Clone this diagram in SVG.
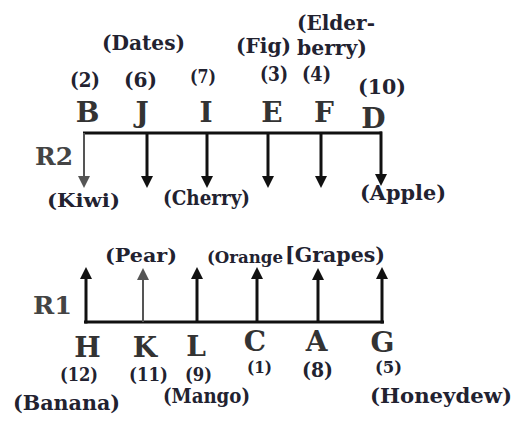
<svg xmlns="http://www.w3.org/2000/svg" width="523" height="421" viewBox="0 0 523 421">
<defs>
<style>
text{font-family:"DejaVu Serif","Liberation Serif",serif;font-weight:bold;fill:#222230}
.let{font-size:28px;fill:#333;text-anchor:middle}
.row{font-size:25px;fill:#444}
.lab{font-size:20px}
.num{font-size:20px}
.ln{stroke:#111;stroke-width:3;fill:none}
.gr{stroke:#555;stroke-width:2;fill:none}
</style>
<marker id="ah" viewBox="0 0 12 12" refX="6" refY="6" markerWidth="12" markerHeight="12" markerUnits="userSpaceOnUse" orient="auto">
<path d="M0,0 L12,6 L0,12 z" fill="#111"/>
</marker>
<marker id="ahg" viewBox="0 0 12 12" refX="6" refY="6" markerWidth="12" markerHeight="12" markerUnits="userSpaceOnUse" orient="auto">
<path d="M0,0 L12,6 L0,12 z" fill="#555"/>
</marker>
</defs>
<rect width="523" height="421" fill="#fff"/>
<g id="rows">
<text class="row" x="35" y="165" textLength="38" lengthAdjust="spacingAndGlyphs">R2</text>
<text class="row" x="33" y="314" textLength="39" lengthAdjust="spacingAndGlyphs">R1</text>
</g>
<g id="connectors">
<line class="ln" x1="83" y1="133" x2="382" y2="133"/>
<line class="gr" x1="84" y1="133" x2="84" y2="182" marker-end="url(#ahg)"/>
<line class="ln" x1="147" y1="133" x2="147" y2="182" marker-end="url(#ah)"/>
<line class="ln" x1="207" y1="133" x2="207" y2="182" marker-end="url(#ah)"/>
<line class="ln" x1="268" y1="133" x2="268" y2="182" marker-end="url(#ah)"/>
<line class="ln" x1="321" y1="133" x2="321" y2="182" marker-end="url(#ah)"/>
<line class="ln" x1="381" y1="131.5" x2="381" y2="180" marker-end="url(#ah)"/>
<line class="ln" x1="84" y1="322" x2="384" y2="322"/>
<line class="ln" x1="86" y1="323.5" x2="86" y2="273" marker-end="url(#ah)"/>
<line class="gr" x1="143" y1="322" x2="143" y2="274" marker-end="url(#ahg)"/>
<line class="ln" x1="197" y1="322" x2="197" y2="273" marker-end="url(#ah)"/>
<line class="ln" x1="257" y1="322" x2="257" y2="273" marker-end="url(#ah)"/>
<line class="ln" x1="318" y1="322" x2="318" y2="274" marker-end="url(#ah)"/>
<line class="ln" x1="382" y1="323.5" x2="382" y2="273" marker-end="url(#ah)"/>
</g>
<g id="node-B">
<text class="num" x="70" y="87" textLength="30" lengthAdjust="spacingAndGlyphs" style="font-size:21px">(2)</text>
<text class="let" x="87.5" y="122">B</text>
<text class="lab" x="47" y="207" textLength="73" lengthAdjust="spacingAndGlyphs" style="font-size:19px">(Kiwi)</text>
</g>
<g id="node-J">
<text class="lab" x="102" y="50" textLength="83" lengthAdjust="spacingAndGlyphs">(Dates)</text>
<text class="num" x="124" y="87" textLength="33" lengthAdjust="spacingAndGlyphs" style="font-size:21px">(6)</text>
<text class="let" x="142" y="122">J</text>
</g>
<g id="node-I">
<text class="num" x="190" y="83" textLength="26" lengthAdjust="spacingAndGlyphs" style="font-size:18px">(7)</text>
<text class="let" x="206" y="122">I</text>
<text class="lab" x="163" y="205" textLength="87" lengthAdjust="spacingAndGlyphs">(Cherry)</text>
</g>
<g id="node-E">
<text class="lab" x="236" y="53" textLength="55" lengthAdjust="spacingAndGlyphs">(Fig)</text>
<text class="num" x="260" y="81" textLength="28" lengthAdjust="spacingAndGlyphs" style="font-size:19.5px">(3)</text>
<text class="let" x="272" y="122">E</text>
</g>
<g id="node-F">
<text class="lab" x="297" y="30" textLength="78" lengthAdjust="spacingAndGlyphs">(Elder-</text>
<text class="lab" x="297" y="55" textLength="70" lengthAdjust="spacingAndGlyphs">berry)</text>
<text class="num" x="302" y="81" textLength="29" lengthAdjust="spacingAndGlyphs" style="font-size:19.5px">(4)</text>
<text class="let" x="324" y="122">F</text>
</g>
<g id="node-D">
<text class="lab" x="358" y="94" textLength="48" lengthAdjust="spacingAndGlyphs" style="font-size:21px">(10)</text>
<text class="let" x="373.5" y="128">D</text>
<text class="lab" x="360" y="200" textLength="86" lengthAdjust="spacingAndGlyphs">(Apple)</text>
</g>
<g id="node-H">
<text class="let" x="87.5" y="357">H</text>
<text class="num" x="60" y="381" textLength="38" lengthAdjust="spacingAndGlyphs" style="font-size:18px">(12)</text>
<text class="lab" x="13" y="410" textLength="107" lengthAdjust="spacingAndGlyphs">(Banana)</text>
</g>
<g id="node-K">
<text class="lab" x="105" y="262" textLength="72" lengthAdjust="spacingAndGlyphs" style="font-size:19px">(Pear)</text>
<text class="let" x="145" y="357">K</text>
<text class="num" x="129" y="381" textLength="39" lengthAdjust="spacingAndGlyphs" style="font-size:18px">(11)</text>
</g>
<g id="node-L">
<text class="let" x="196" y="356">L</text>
<text class="num" x="185" y="381" textLength="27" lengthAdjust="spacingAndGlyphs" style="font-size:18px">(9)</text>
<text class="lab" x="163" y="403" textLength="87" lengthAdjust="spacingAndGlyphs">(Mango)</text>
</g>
<g id="node-C">
<text class="lab" x="207" y="263" textLength="76" lengthAdjust="spacingAndGlyphs" style="font-size:16px">(Orange</text>
<text class="let" x="255" y="351">C</text>
<text class="num" x="247" y="373" textLength="25" lengthAdjust="spacingAndGlyphs" style="font-size:17px">(1)</text>
</g>
<g id="node-A">
<text class="lab" x="285" y="262" textLength="100" lengthAdjust="spacingAndGlyphs">[Grapes)</text>
<text class="let" x="316.5" y="351">A</text>
<text class="num" x="302" y="377" textLength="31" lengthAdjust="spacingAndGlyphs" style="font-size:20px">(8)</text>
</g>
<g id="node-G">
<text class="let" x="382.5" y="352">G</text>
<text class="num" x="375" y="373" textLength="27" lengthAdjust="spacingAndGlyphs" style="font-size:17px">(5)</text>
<text class="lab" x="370" y="403" textLength="142" lengthAdjust="spacingAndGlyphs">(Honeydew)</text>
</g>
</svg>
